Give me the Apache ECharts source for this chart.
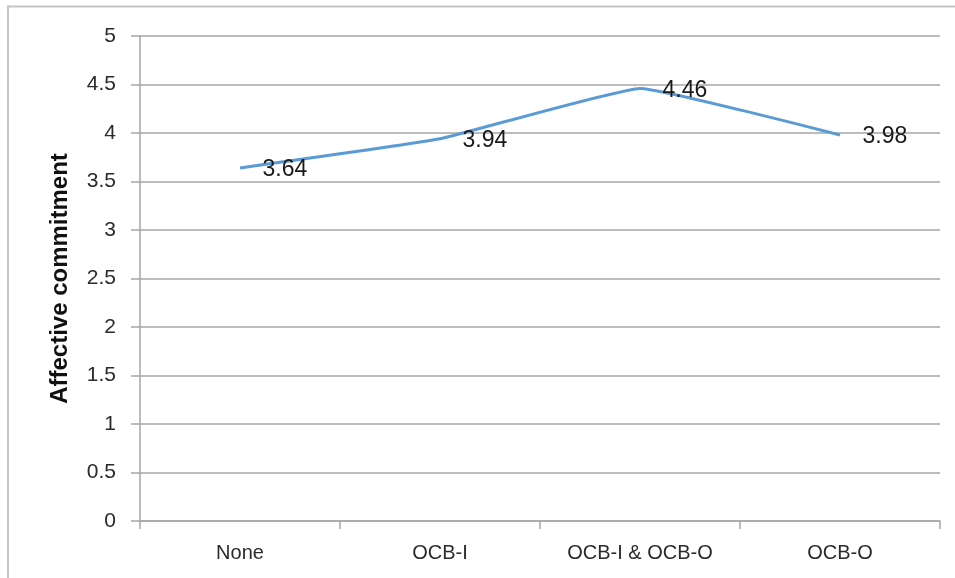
<!DOCTYPE html>
<html>
<head>
<meta charset="utf-8">
<script src="https://cdn.jsdelivr.net/npm/echarts@6/dist/echarts.min.js"></script>
<style>
  html, body { margin: 0; padding: 0; background: #ffffff; }
  #chart { width: 955px; height: 578px; }
</style>
</head>
<body>
<div id="chart"></div>
<script>
// Mean affective commitment by type of citizenship behaviour
const categories = ['None', 'OCB-I', 'OCB-I & OCB-O', 'OCB-O'];
const commitment = [3.64, 3.94, 4.46, 3.98];
const yTicks = { min: 0, max: 5, interval: 0.5 };
const yTitle = 'Affective commitment';

const font = '"Liberation Sans", Arial, sans-serif';
const chart = echarts.init(document.getElementById('chart'), null, { renderer: 'canvas' });

chart.setOption({
  animation: false,
  backgroundColor: '#ffffff',
  grid: { left: 140, right: 15, top: 36, bottom: 57, containLabel: false },
  graphic: [{
    type: 'rect',
    shape: { x: 8, y: 6.5, width: 1000, height: 700 },
    style: { fill: 'none', stroke: '#c4c4c4', lineWidth: 2 },
    silent: true,
    z: 0
  }],
  xAxis: {
    type: 'category',
    data: categories,
    boundaryGap: true,
    axisLine: { show: true, lineStyle: { color: '#a6a6a6', width: 1.5 } },
    axisTick: { show: true, length: 8, lineStyle: { color: '#a6a6a6', width: 1.5 } },
    axisLabel: { color: '#2b2b2b', fontFamily: font, fontSize: 20, margin: 22 },
    splitLine: { show: false }
  },
  yAxis: {
    type: 'value',
    min: yTicks.min,
    max: yTicks.max,
    interval: yTicks.interval,
    name: yTitle,
    nameLocation: 'middle',
    nameGap: 68,
    nameTextStyle: { color: '#111111', fontFamily: font, fontSize: 24, fontWeight: 'bold' },
    axisLine: { show: true, lineStyle: { color: '#a6a6a6', width: 1.5 } },
    axisTick: { show: true, length: 9, lineStyle: { color: '#a6a6a6', width: 1.5 } },
    axisLabel: { color: '#2b2b2b', fontFamily: font, fontSize: 21, margin: 24 },
    splitLine: { show: true, lineStyle: { color: '#a6a6a6', width: 1.5 } }
  },
  series: [{
    type: 'line',
    data: commitment,
    smooth: 0.1,
    symbol: 'circle',
    symbolSize: 1,
    showSymbol: true,
    itemStyle: { color: 'rgba(91,155,213,0)' },
    lineStyle: { color: '#5b9bd5', width: 3 },
    label: {
      show: true,
      position: 'right',
      distance: 22,
      offset: [0, 2],
      color: '#1a1a1a',
      fontFamily: font,
      fontSize: 23,
      formatter: p => p.value.toFixed(2)
    },
    z: 3
  }]
});
</script>
</body>
</html>
